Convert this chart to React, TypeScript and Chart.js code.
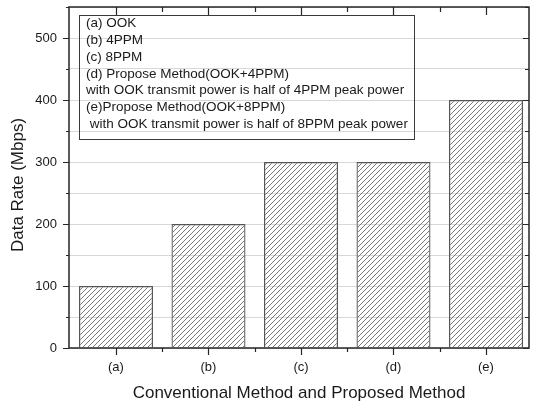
import { useEffect, useRef } from "react";
import { Chart, registerables } from "chart.js";

Chart.register(...registerables);

// Bar categories and their positions on the linear x axis
const categories = ["(a)", "(b)", "(c)", "(d)", "(e)"];
const categoryPositions = [1, 2, 3, 4, 5];
// Data rate of each method (Mbps)
const dataRates = [100, 200, 300, 300, 400];

// Axis ranges and tick spacing
const yMin = 0;
const yMax = 550;
const yMinorStep = 50;
const yMajorStep = 100;
const xMin = 0.492;
const xMax = 5.465;

const xTitle = "Conventional Method and Proposed Method";
const yTitle = "Data Rate (Mbps)";

const legendLines = [
  "(a) OOK",
  "(b) 4PPM",
  "(c) 8PPM",
  "(d) Propose Method(OOK+4PPM)",
  "with OOK transmit power is half of 4PPM peak power",
  "(e)Propose Method(OOK+8PPM)",
  " with OOK transmit power is half of 8PPM peak power",
];

const FONT = "'Liberation Sans', Arial, sans-serif";
const TEXT = "#1a1a1a";
const AXIS = "#262626";

function makeHatch(): CanvasPattern | string {
  const s = 5;
  const c = document.createElement("canvas");
  c.width = s;
  c.height = s;
  const g = c.getContext("2d");
  if (!g) return "rgba(0,0,0,0)";
  g.strokeStyle = "#606060";
  g.lineWidth = 0.85;
  g.beginPath();
  g.moveTo(0, s);
  g.lineTo(s, 0);
  g.moveTo(-1, 1);
  g.lineTo(1, -1);
  g.moveTo(s - 1, s + 1);
  g.lineTo(s + 1, s - 1);
  g.stroke();
  const p = g.createPattern(c, "repeat");
  return p ?? "rgba(0,0,0,0)";
}

// Draws the boxed frame with inward/outward tick marks and the y-axis title
const framePlugin = {
  id: "frameTicks",
  afterDatasetsDraw(chart: any) {
    const { ctx, chartArea: a, scales } = chart;
    const x = scales.x;
    const y = scales.y;
    ctx.save();
    ctx.strokeStyle = AXIS;
    ctx.lineWidth = 1.2;
    ctx.beginPath();
    for (let v = yMin; v <= yMax; v += yMinorStep) {
      const py = Math.round(y.getPixelForValue(v)) + 0.5;
      const major = v % yMajorStep === 0;
      ctx.moveTo(a.left, py);
      ctx.lineTo(a.left - (major ? 6 : 3), py);
      ctx.moveTo(a.right, py);
      ctx.lineTo(a.right - (major ? 6 : 4), py);
    }
    categoryPositions.forEach((c, i) => {
      const px = Math.round(x.getPixelForValue(c)) + 0.5;
      ctx.moveTo(px, a.bottom);
      ctx.lineTo(px, a.bottom + 7);
      ctx.moveTo(px, a.top);
      ctx.lineTo(px, a.top + 8);
      if (i < categoryPositions.length - 1) {
        const mx = Math.round(x.getPixelForValue(c + 0.5)) + 0.5;
        ctx.moveTo(mx, a.bottom);
        ctx.lineTo(mx, a.bottom + 4);
        ctx.moveTo(mx, a.top);
        ctx.lineTo(mx, a.top + 5);
      }
    });
    ctx.stroke();
    ctx.lineWidth = 1.5;
    ctx.strokeRect(a.left, a.top, a.right - a.left, a.bottom - a.top);

    // y-axis title, rotated
    ctx.translate(18.5, (a.top + a.bottom) / 2 + 7.5);
    ctx.rotate(-Math.PI / 2);
    ctx.fillStyle = TEXT;
    ctx.font = `17px ${FONT}`;
    ctx.textAlign = "center";
    ctx.textBaseline = "middle";
    ctx.fillText(yTitle, 0, 0);
    ctx.restore();
  },
};

// Text box listing the compared methods
const legendBoxPlugin = {
  id: "legendBox",
  afterDraw(chart: any) {
    const { ctx, chartArea: a } = chart;
    const left = a.left + 10;
    const top = a.top + 8;
    const width = 335;
    const lineH = 16.8;
    const height = 124;
    ctx.save();
    ctx.strokeStyle = "#3a3a3a";
    ctx.lineWidth = 1;
    ctx.strokeRect(Math.round(left) + 0.5, Math.round(top) + 0.5, width, height);
    ctx.fillStyle = TEXT;
    ctx.font = `13.5px ${FONT}`;
    ctx.textAlign = "left";
    ctx.textBaseline = "middle";
    legendLines.forEach((line, i) => {
      ctx.fillText(line, left + 7, top + 8.5 + i * lineH);
    });
    ctx.restore();
  },
};

export default function App() {
  const canvasRef = useRef<HTMLCanvasElement | null>(null);

  useEffect(() => {
    const canvas = canvasRef.current;
    if (!canvas) return;
    Chart.defaults.font.family = FONT;
    Chart.defaults.color = TEXT;
    const hatch = makeHatch();

    const chart = new Chart(canvas, {
      type: "bar",
      data: {
        datasets: [
          {
            data: categoryPositions.map((p, i) => ({ x: p, y: dataRates[i] })),
            backgroundColor: hatch as any,
            borderColor: "#555555",
            borderWidth: 1.2,
            barPercentage: 0.8,
            categoryPercentage: 1,
          },
        ],
      },
      options: {
        responsive: false,
        animation: false,
        events: [],
        layout: { padding: { top: 7, right: 8, left: 0, bottom: 0 } },
        plugins: {
          legend: { display: false },
          tooltip: { enabled: false },
        },
        scales: {
          x: {
            type: "linear",
            position: "bottom",
            offset: false,
            min: xMin,
            max: xMax,
            grid: { display: false, drawTicks: false, offset: false },
            border: { display: false },
            afterBuildTicks: (scale: any) => {
              scale.ticks = categoryPositions.map((v) => ({ value: v }));
            },
            afterFit: (scale: any) => {
              scale.height = 54;
              scale.paddingLeft = 0;
              scale.paddingRight = 0;
            },
            ticks: {
              autoSkip: false,
              maxRotation: 0,
              padding: 12,
              color: TEXT,
              font: { size: 13 },
              callback: (v: any) => categories[categoryPositions.indexOf(Number(v))] ?? "",
            },
            title: {
              display: true,
              text: xTitle,
              color: TEXT,
              font: { size: 17, lineHeight: 1.0 },
              padding: { top: 0, bottom: 0 },
            },
          },
          y: {
            min: yMin,
            max: yMax,
            grid: { color: "#d8d8d8", lineWidth: 1, drawTicks: false },
            border: { display: false },
            afterFit: (scale: any) => {
              scale.width = 69;
              scale.paddingTop = 0;
              scale.paddingBottom = 0;
            },
            ticks: {
              stepSize: yMinorStep,
              padding: 12,
              color: TEXT,
              font: { size: 13 },
              callback: (v: any) => (Number(v) % yMajorStep === 0 ? String(v) : ""),
            },
            title: { display: false },
          },
        },
      },
      plugins: [framePlugin, legendBoxPlugin],
    });

    return () => chart.destroy();
  }, []);

  return (
    <div style={{ position: "absolute", left: 0, top: 0, width: 537, height: 402 }}>
      <canvas ref={canvasRef} width={537} height={402} />
    </div>
  );
}
